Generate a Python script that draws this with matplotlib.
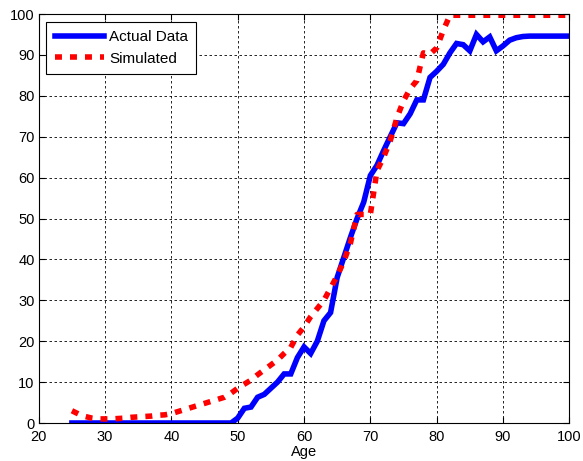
import numpy as np
import matplotlib.pyplot as plt

plt.rcParams['font.family'] = ['Liberation Sans', 'DejaVu Sans']

age = np.arange(25, 101)

actual = [0] * 25 + [  # ages 25-49
    1.2, 3.6, 3.9, 6.3, 7.0, 8.5, 10.0, 12.0, 12.0, 16.0,   # 50-59
    18.6, 17.0, 20.0, 25.0, 27.0, 35.6, 40.5, 45.4, 50.0, 54.0,  # 60-69
    60.5, 63.0, 66.6, 70.0, 73.4, 73.2, 75.6, 79.0, 79.0, 84.5,  # 70-79
    86.0, 87.7, 90.5, 92.8, 92.5, 91.0, 95.0, 93.2, 94.4, 91.0,  # 80-89
    92.2, 93.6, 94.2, 94.5, 94.6, 94.6, 94.6, 94.6, 94.6, 94.6,  # 90-99
    94.6]                                                      # 100

simulated = [
    3.0, 2.2, 1.6, 1.2, 1.0, 1.0, 1.0, 1.1, 1.2, 1.4,      # 25-34
    1.5, 1.6, 1.7, 1.9, 2.0, 2.3, 2.8, 3.3, 3.8, 4.3,      # 35-44
    4.8, 5.3, 5.8, 6.3, 7.3, 8.5, 9.5, 10.5, 11.8, 13.0,   # 45-54
    14.2, 15.4, 17.0, 18.5, 21.5, 23.5, 26.0, 28.0, 30.0, 33.0,  # 55-64
    36.0, 39.5, 44.0, 51.0, 51.0, 51.0, 61.7, 65.0, 69.0, 74.6,  # 65-74
    78.8, 81.7, 83.7, 90.5, 90.2, 91.7, 96.0, 99.7, 99.7, 99.7,  # 75-84
    99.7, 99.7, 99.7, 99.7, 99.7, 99.7, 99.7, 99.7, 99.7, 99.7,  # 85-94
    99.7, 99.7, 99.7, 99.7, 99.7, 99.7]                          # 95-100

fig = plt.figure(figsize=(5.83, 4.61), dpi=100)
ax = fig.add_axes([0.0665, 0.0824, 0.9100, 0.8872])

ax.plot(age, actual, color='#0000ff', lw=4.0, label='Actual Data',
        solid_joinstyle='miter')
ax.plot(age, simulated, color='#ff0000', lw=4.0, label='Simulated',
        linestyle=(0, (1.25, 1.45)), dash_capstyle='butt')

ax.set_xlim(20, 100)
ax.set_ylim(0, 100)
ax.set_xticks(np.arange(20, 101, 10))
ax.set_yticks(np.arange(0, 101, 10))
ax.grid(True, color='black', linestyle=(0, (3, 3)), linewidth=0.6)
ax.tick_params(direction='in', top=True, right=True, labelsize=10.5, length=4)
ax.tick_params(axis='x', pad=5)
ax.tick_params(axis='y', pad=3)
for s in ax.spines.values():
    s.set_linewidth(0.8)

ax.set_xlabel('Age', fontsize=10.5, labelpad=0.5)

leg = ax.legend(loc='upper left', fontsize=11, handlelength=3.2, fancybox=False,
                framealpha=1, edgecolor='black', borderaxespad=0.5,
                borderpad=0.55, labelspacing=0.5, handletextpad=0.35)
leg.get_frame().set_linewidth(0.8)

fig.savefig('out.png', dpi=100)
